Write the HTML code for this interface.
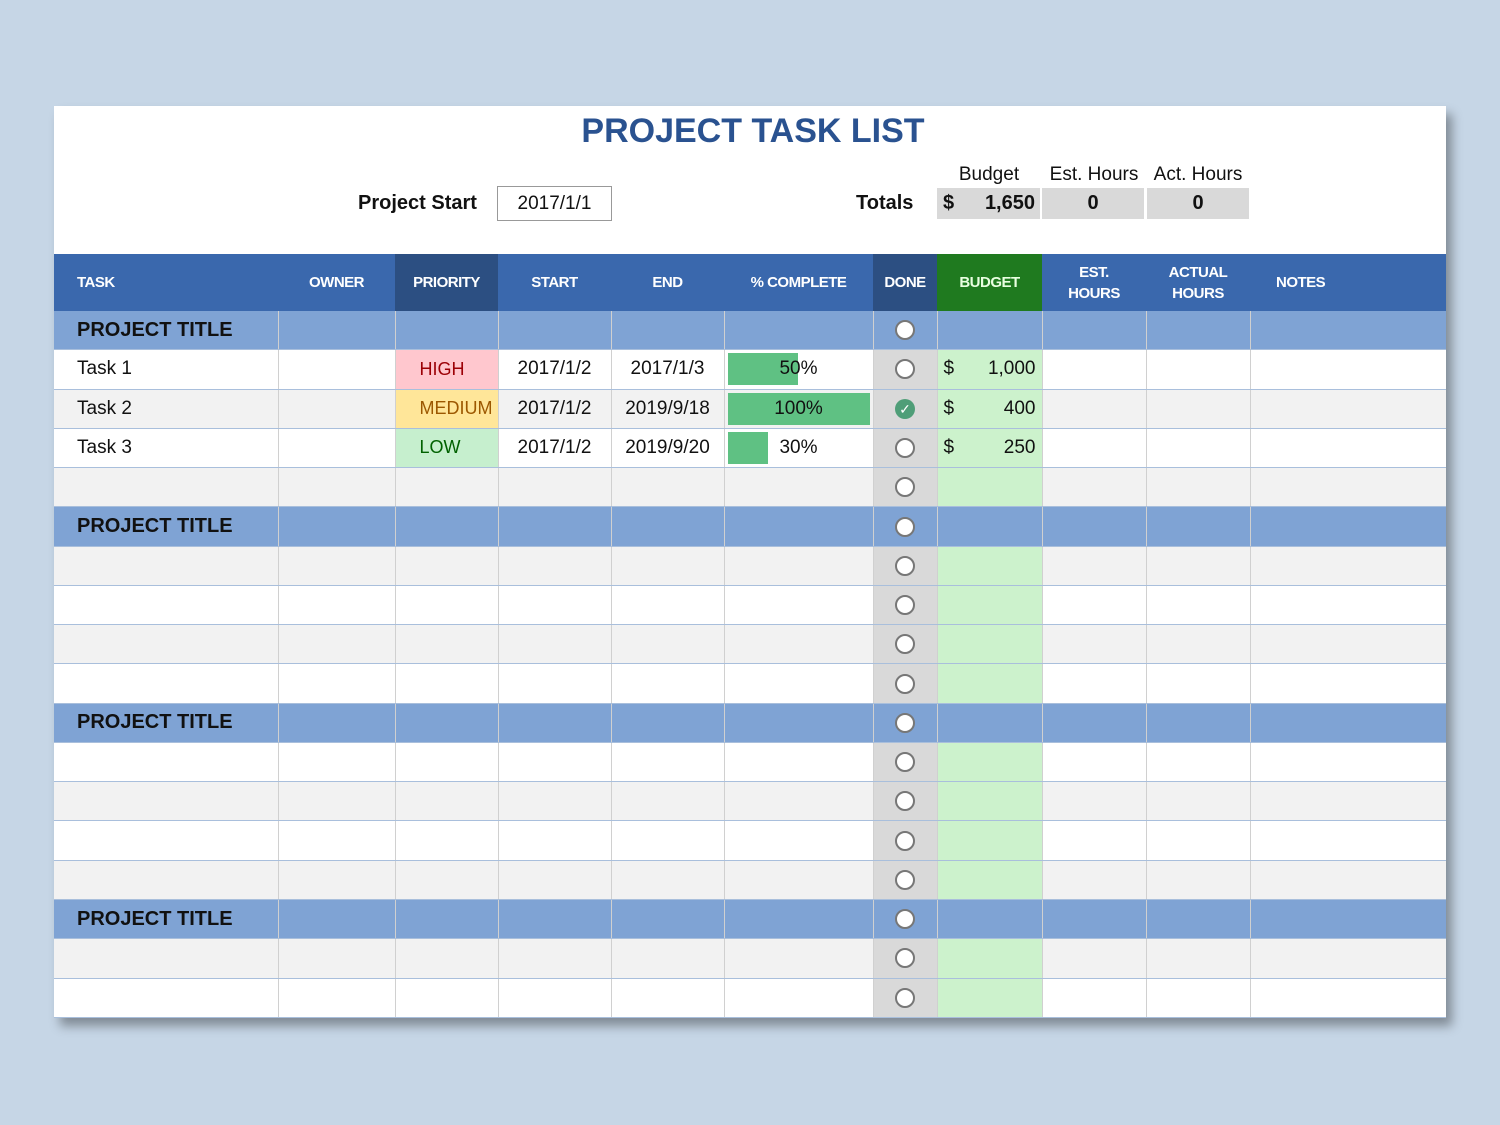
<!DOCTYPE html>
<html><head><meta charset="utf-8"><style>
body{margin:0;width:1500px;height:1125px;background:#c6d6e6;font-family:"Liberation Sans",Arial,sans-serif;position:relative;overflow:hidden}
.sheet{position:absolute;left:54px;top:106px;width:1392px;height:912px;background:#fff;box-shadow:6px 8px 10px rgba(0,0,0,.35)}
.title{position:absolute;left:0;width:1398px;top:6px;text-align:center;font-size:34px;font-weight:bold;color:#2a5290}
.abs{position:absolute;font-size:20px;color:#111}
table{position:absolute;left:0;top:148px;border-collapse:collapse;table-layout:fixed;width:1392px}
td{padding:0;font-size:19px;color:#111;border-left:1px solid #d0d0d0;border-bottom:1px solid #a9bfdc;height:38.28px;white-space:nowrap;overflow:hidden}
td:first-child{border-left:none}
tr.h td{height:57px;background:#3a68ad;color:#fff;font-size:15px;letter-spacing:-0.5px;font-weight:bold;text-align:center;border:none;line-height:21px}
tr.h td.dk{background:#2c4f82}
tr.h td.gr{background:#1f7a1f;color:#e8ffe0}
tr.t td{background:#7fa3d4;font-weight:bold;font-size:20px}
tr.t td:first-child{padding-left:23px}
tr.g td{background:#f2f2f2}
td.d{background:#d9d9d9!important;text-align:center}
tr.t td.d{background:#7fa3d4!important}
td.b{background:#ccf2cc!important}
tr.t td.b{background:#7fa3d4!important}
.c{display:inline-block;width:16px;height:16px;border-radius:50%;border:2px solid #777;background:#fff;vertical-align:middle}
.ck{display:inline-block;width:20px;height:20px;border-radius:50%;background:#4f9e78;color:#fff;font-size:14px;line-height:20px;text-align:center;vertical-align:middle}
.tk{padding-left:23px}
.ctr{text-align:center}
.money{display:flex;justify-content:space-between;padding:0 6px 0 6px}
.bar{position:relative;height:38px}
.bar i{position:absolute;left:3px;top:3px;bottom:3px;background:#5fc183}
.bar span{position:relative;display:block;text-align:center;line-height:38px}
</style></head><body>
<div class="sheet">
<div class="title">PROJECT TASK LIST</div>
<div class="abs" style="left:304px;top:86px;font-weight:bold">Project Start</div>
<div class="abs" style="left:443px;top:80px;width:113px;height:33px;border:1px solid #999;text-align:center;line-height:33px;font-size:19px">2017/1/1</div>
<div class="abs" style="left:802px;top:86px;font-weight:bold">Totals</div>
<div class="abs" style="left:883px;top:58px;width:104px;text-align:center;font-size:19px">Budget</div>
<div class="abs" style="left:988px;top:58px;width:104px;text-align:center;font-size:19px">Est. Hours</div>
<div class="abs" style="left:1092px;top:58px;width:104px;text-align:center;font-size:19px">Act. Hours</div>
<div class="abs" style="left:883px;top:82px;width:103px;height:31px;background:#d9d9d9;font-weight:bold;line-height:31px"><span style="position:absolute;left:6px">$</span><span style="position:absolute;right:5px">1,650</span></div>
<div class="abs" style="left:988px;top:82px;width:102px;height:31px;background:#d9d9d9;font-weight:bold;line-height:31px;text-align:center">0</div>
<div class="abs" style="left:1093px;top:82px;width:102px;height:31px;background:#d9d9d9;font-weight:bold;line-height:31px;text-align:center">0</div>
<table>
<colgroup><col style="width:224px"><col style="width:117px"><col style="width:103px"><col style="width:113px"><col style="width:113px"><col style="width:149px"><col style="width:64px"><col style="width:105px"><col style="width:104px"><col style="width:104px"><col style="width:196px"></colgroup>
<tr class="h"><td style="text-align:left;padding-left:23px">TASK</td><td>OWNER</td><td class="dk">PRIORITY</td><td>START</td><td>END</td><td>% COMPLETE</td><td class="dk">DONE</td><td class="gr">BUDGET</td><td>EST.<br>HOURS</td><td>ACTUAL<br>HOURS</td><td style="text-align:left;padding-left:26px">NOTES</td></tr>
<tr class="t"><td>PROJECT TITLE</td><td></td><td></td><td></td><td></td><td></td><td class="d"><span class="c"></span></td><td class="b"></td><td></td><td></td><td></td></tr>
<tr><td class="tk">Task 1</td><td></td><td style="background:#ffc7ce;color:#9c0006;padding-left:24px;font-size:18px">HIGH</td><td class="ctr">2017/1/2</td><td class="ctr">2017/1/3</td><td><div class="bar"><i style="width:70px"></i><span>50%</span></div></td><td class="d"><span class="c"></span></td><td class="b"><div class="money"><span>$</span><span>1,000</span></div></td><td></td><td></td><td></td></tr>
<tr class="g"><td class="tk">Task 2</td><td></td><td style="background:#ffe699;color:#9c5700;padding-left:24px;font-size:18px">MEDIUM</td><td class="ctr">2017/1/2</td><td class="ctr">2019/9/18</td><td><div class="bar"><i style="width:142px"></i><span>100%</span></div></td><td class="d"><span class="ck">✓</span></td><td class="b"><div class="money"><span>$</span><span>400</span></div></td><td></td><td></td><td></td></tr>
<tr><td class="tk">Task 3</td><td></td><td style="background:#c6efce;color:#006100;padding-left:24px;font-size:18px">LOW</td><td class="ctr">2017/1/2</td><td class="ctr">2019/9/20</td><td><div class="bar"><i style="width:40px"></i><span>30%</span></div></td><td class="d"><span class="c"></span></td><td class="b"><div class="money"><span>$</span><span>250</span></div></td><td></td><td></td><td></td></tr>
<tr class="g"><td></td><td></td><td></td><td></td><td></td><td></td><td class="d"><span class="c"></span></td><td class="b"></td><td></td><td></td><td></td></tr>
<tr class="t"><td>PROJECT TITLE</td><td></td><td></td><td></td><td></td><td></td><td class="d"><span class="c"></span></td><td class="b"></td><td></td><td></td><td></td></tr>
<tr class="g"><td></td><td></td><td></td><td></td><td></td><td></td><td class="d"><span class="c"></span></td><td class="b"></td><td></td><td></td><td></td></tr>
<tr><td></td><td></td><td></td><td></td><td></td><td></td><td class="d"><span class="c"></span></td><td class="b"></td><td></td><td></td><td></td></tr>
<tr class="g"><td></td><td></td><td></td><td></td><td></td><td></td><td class="d"><span class="c"></span></td><td class="b"></td><td></td><td></td><td></td></tr>
<tr><td></td><td></td><td></td><td></td><td></td><td></td><td class="d"><span class="c"></span></td><td class="b"></td><td></td><td></td><td></td></tr>
<tr class="t"><td>PROJECT TITLE</td><td></td><td></td><td></td><td></td><td></td><td class="d"><span class="c"></span></td><td class="b"></td><td></td><td></td><td></td></tr>
<tr><td></td><td></td><td></td><td></td><td></td><td></td><td class="d"><span class="c"></span></td><td class="b"></td><td></td><td></td><td></td></tr>
<tr class="g"><td></td><td></td><td></td><td></td><td></td><td></td><td class="d"><span class="c"></span></td><td class="b"></td><td></td><td></td><td></td></tr>
<tr><td></td><td></td><td></td><td></td><td></td><td></td><td class="d"><span class="c"></span></td><td class="b"></td><td></td><td></td><td></td></tr>
<tr class="g"><td></td><td></td><td></td><td></td><td></td><td></td><td class="d"><span class="c"></span></td><td class="b"></td><td></td><td></td><td></td></tr>
<tr class="t"><td>PROJECT TITLE</td><td></td><td></td><td></td><td></td><td></td><td class="d"><span class="c"></span></td><td class="b"></td><td></td><td></td><td></td></tr>
<tr class="g"><td></td><td></td><td></td><td></td><td></td><td></td><td class="d"><span class="c"></span></td><td class="b"></td><td></td><td></td><td></td></tr>
<tr><td></td><td></td><td></td><td></td><td></td><td></td><td class="d"><span class="c"></span></td><td class="b"></td><td></td><td></td><td></td></tr>
</table>
</div>
</body></html>
